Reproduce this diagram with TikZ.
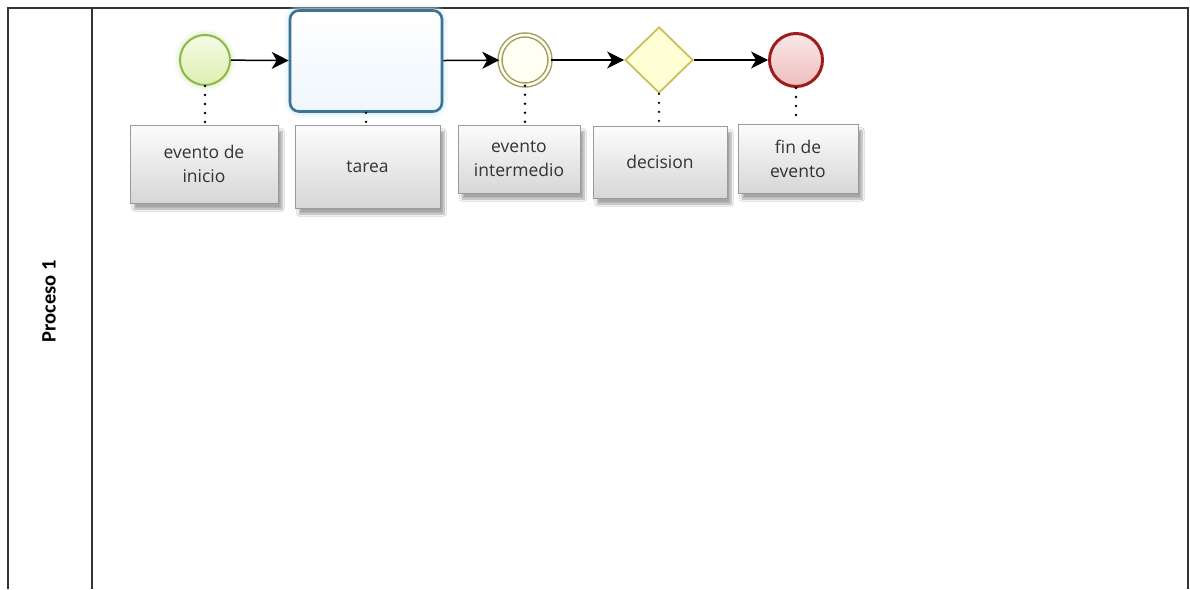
\documentclass[tikz,border=0pt]{standalone}
\usepackage{fontspec}
\setmainfont{Open Sans}
\newfontfamily\lanefont{Carlito}
\usetikzlibrary{shapes.geometric,arrows.meta,shadows.blur}
\definecolor{frameline}{HTML}{333333}
\definecolor{startline}{HTML}{8DB84A}
\definecolor{startfill}{HTML}{E6F5BC}
\definecolor{taskline}{HTML}{3D7393}
\definecolor{taskfill}{HTML}{EEF6FD}
\definecolor{taskglow}{HTML}{CFE9F7}
\definecolor{midline}{HTML}{A39E5E}
\definecolor{midfill}{HTML}{FFFFF4}
\definecolor{gateline}{HTML}{C9C15E}
\definecolor{gatefill}{HTML}{FFFFD6}
\definecolor{endline}{HTML}{9E1C1C}
\definecolor{endfill}{HTML}{F7D0D0}
\definecolor{notefill}{HTML}{E2E2E2}
\definecolor{noteline}{HTML}{9A9A9A}
\tikzset{
  flow/.style={draw=black, line width=1.5pt, -{Stealth[length=17pt,width=17pt,inset=5pt]}},
  assoc/.style={draw=black, line width=2.6pt, line cap=round, dash pattern=on 0pt off 9pt},
  note/.style={rectangle, draw=noteline, line width=0.8pt, top color=white!90!notefill, bottom color=notefill!95!black,
    align=center, font=\fontsize{17.5}{24}\selectfont, text=black!80,
    blur shadow={shadow xshift=4pt, shadow yshift=-6pt, shadow blur steps=8, shadow opacity=35}},
  startev/.style={circle, minimum size=50pt, inner sep=0pt, draw=startline, line width=2pt,
    top color=white!60!startfill, bottom color=startfill!90!startline},
  midev/.style={circle, minimum size=50pt, inner sep=0pt, draw=midline, line width=1.5pt, double=midfill,
    double distance=2.5pt, fill=midfill},
  endev/.style={circle, minimum size=53pt, inner sep=0pt, draw=endline, line width=3pt,
    top color=endfill!50!white, bottom color=endfill!90!endline},
  gate/.style={diamond, minimum width=68pt, minimum height=66pt, inner sep=0pt, draw=gateline, line width=1.8pt,
    fill=gatefill},
  task/.style={rectangle, rounded corners=9pt, minimum width=152pt, minimum height=101pt, draw=taskline,
    line width=2.6pt, top color=white, bottom color=taskfill},
}
\begin{document}
\begin{tikzpicture}[x=1pt,y=-1pt]
\useasboundingbox (0,0) rectangle (1190,589);
\fill[white] (0,0) rectangle (1190,589);

% pool frame and lane header
\draw[frameline, line width=2.2pt] (8,589) -- (8,8) -- (1188,8) -- (1188,589);
\draw[frameline, line width=2.2pt] (92,8) -- (92,589);
\node[rotate=90, font=\lanefont\bfseries\fontsize{20.5}{22}\selectfont] (lane) at (49,301) {Proceso 1};

% soft glow behind the task and the start event
\foreach \w/\o in {12/0.15, 8/0.25, 4/0.4}{
  \draw[taskglow, line width=\w pt, opacity=\o, rounded corners=10pt] (290,10) rectangle (442,112);
  \draw[startfill!70!startline, line width=\w pt, opacity=\o*0.6] (205,60) circle (25pt);
}

% flow elements
\node[startev] (start) at (205,60) {};
\node[task] (tarea) at (366,61) {};
\node[midev] (mid) at (525,60) {};
\node[gate] (dec) at (659,60) {};
\node[endev] (fin) at (796,60) {};

\draw[flow] (start) -- (tarea);
\draw[flow] (tarea) -- (mid);
\draw[flow] (mid) -- (dec);
\draw[flow] (dec) -- (fin);

% text annotations
\node[note, minimum width=148pt, minimum height=78pt] (n1) at (204,164) {evento de\\inicio};
\node[note, minimum width=145pt, minimum height=83pt] (n2) at (367.5,166.5) {tarea};
\node[note, minimum width=122pt, minimum height=68pt] (n3) at (519,159) {evento\\intermedio};
\node[note, minimum width=134pt, minimum height=72pt] (n4) at (660,162) {decision};
\node[note, minimum width=120pt, minimum height=69pt] (n5) at (798,158.5) {fin de\\evento};

% associations
\draw[assoc] (start.south) -- (start.south |- n1.north);
\draw[assoc] (tarea.south) -- (tarea.south |- n2.north);
\draw[assoc] (mid.south) -- (mid.south |- n3.north);
\draw[assoc] (dec.south) -- (dec.south |- n4.north);
\draw[assoc] (fin.south) -- (fin.south |- n5.north);
\end{tikzpicture}
\end{document}
